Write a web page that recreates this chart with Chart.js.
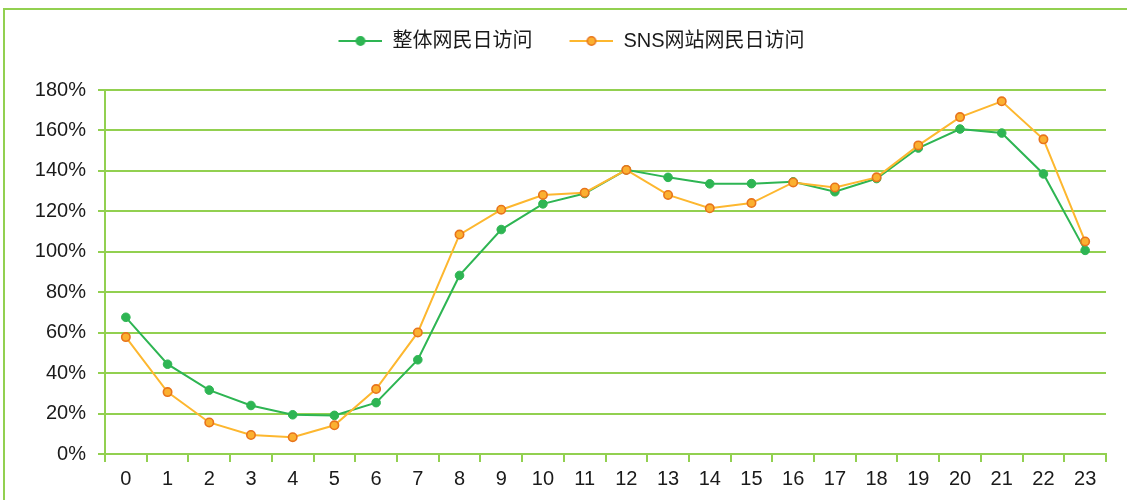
<!DOCTYPE html>
<html>
<head>
<meta charset="utf-8">
<script src="https://cdn.jsdelivr.net/npm/chart.js@4"></script>
<style>
  html, body { margin: 0; padding: 0; background: #fff; overflow: hidden; }
  #wrap { position: relative; width: 1127px; height: 500px; }
  #frame { position: absolute; left: 3px; top: 8px; width: 1200px; height: 600px;
           border-left: 2px solid #92d050; border-top: 2px solid #92d050; }
  #myChart { position: absolute; left: 0; top: 0; }
</style>
</head>
<body>
<div id="wrap">
  <div id="frame"></div>
  <canvas id="myChart" width="1127" height="500"></canvas>
</div>
<script>
var hours = ['0','1','2','3','4','5','6','7','8','9','10','11','12','13','14','15','16','17','18','19','20','21','22','23'];
var overall = [67.6, 44.4, 31.6, 24.0, 19.4, 19.1, 25.4, 46.6, 88.3, 111.0, 123.7, 128.8, 140.5, 136.8, 133.6, 133.7, 134.6, 129.7, 136.2, 151.3, 160.7, 158.7, 138.5, 100.7];
var sns = [57.8, 30.6, 15.6, 9.4, 8.3, 14.2, 32.1, 60.1, 108.5, 120.8, 128.1, 129.2, 140.5, 128.1, 121.5, 124.1, 134.3, 131.8, 136.8, 152.6, 166.6, 174.4, 155.6, 105.1];
var seriesNames = ['整体网民日访问', 'SNS网站网民日访问'];

var gridGreen = '#92d050';
var fontFamily = '"Liberation Sans", "Noto Sans CJK SC", sans-serif';

// small line + dot icon for the legend
function legendIcon(line, fill, stroke) {
    var c = document.createElement('canvas');
    c.width = 51; c.height = 14;
    var g = c.getContext('2d');
    g.strokeStyle = line;
    g.lineWidth = 2;
    g.beginPath(); g.moveTo(7, 7); g.lineTo(51, 7); g.stroke();
    g.beginPath(); g.arc(29, 7, 4.2, 0, Math.PI * 2);
    g.fillStyle = fill; g.fill();
    g.lineWidth = 1.5; g.strokeStyle = stroke; g.stroke();
    return c;
}
var icons = [legendIcon('#2eb553', '#2eb553', '#2eb553'), legendIcon('#fdb72f', '#fbb030', '#e8741c')];

var ctx = document.getElementById('myChart').getContext('2d');
var myChart = new Chart(ctx, {
    type: 'line',
    data: {
        labels: hours,
        datasets: [{
            label: seriesNames[0],
            data: overall,
            borderColor: '#2eb553',
            backgroundColor: '#2eb553',
            pointBackgroundColor: '#2eb553',
            pointBorderColor: '#2eb553',
            pointRadius: 4.3,
            pointBorderWidth: 1,
            borderWidth: 2,
            tension: 0,
            order: 1
        }, {
            label: seriesNames[1],
            data: sns,
            borderColor: '#fdb72f',
            backgroundColor: '#fbb030',
            pointBackgroundColor: '#fbb030',
            pointBorderColor: '#e8741c',
            pointRadius: 4.2,
            pointBorderWidth: 1.6,
            borderWidth: 2,
            tension: 0,
            order: 0
        }]
    },
    options: {
        responsive: false,
        animation: false,
        layout: { padding: { left: 30, right: 21, top: 1, bottom: 0 } },
        plugins: {
            tooltip: { enabled: false },
            legend: {
                position: 'top',
                labels: {
                    usePointStyle: true,
                    pointStyleWidth: 51,
                    padding: 30,
                    color: '#1a1a1a',
                    font: { family: fontFamily, size: 20 },
                    sort: function(a, b) { return a.datasetIndex - b.datasetIndex; },
                    generateLabels: function(chart) {
                        var items = Chart.defaults.plugins.legend.labels.generateLabels(chart);
                        items.forEach(function(it) { it.pointStyle = icons[it.datasetIndex]; });
                        return items;
                    }
                }
            },
            // empty spacer between legend and plot area
            subtitle: {
                display: true,
                text: '',
                weight: 900,
                font: { size: 1, lineHeight: 1 },
                padding: { top: 28, bottom: 0 }
            }
        },
        scales: {
            x: {
                offset: true,
                grid: {
                    offset: true,
                    drawOnChartArea: false,
                    drawTicks: true,
                    tickLength: 8,
                    color: gridGreen,
                    lineWidth: 2
                },
                border: { color: gridGreen, width: 2 },
                ticks: {
                    color: '#1a1a1a',
                    padding: 5,
                    maxRotation: 0,
                    font: { family: fontFamily, size: 20 }
                },
                afterFit: function(scale) { scale.height = 46; }
            },
            y: {
                min: 0,
                max: 180,
                grid: {
                    color: gridGreen,
                    lineWidth: 2,
                    tickLength: 7
                },
                border: { color: gridGreen, width: 2 },
                ticks: {
                    stepSize: 20,
                    color: '#1a1a1a',
                    padding: 12,
                    font: { family: fontFamily, size: 20 },
                    callback: function(v) { return v + '%'; }
                },
                afterFit: function(scale) { scale.width = 75; }
            }
        }
    }
});
</script>
</body>
</html>
